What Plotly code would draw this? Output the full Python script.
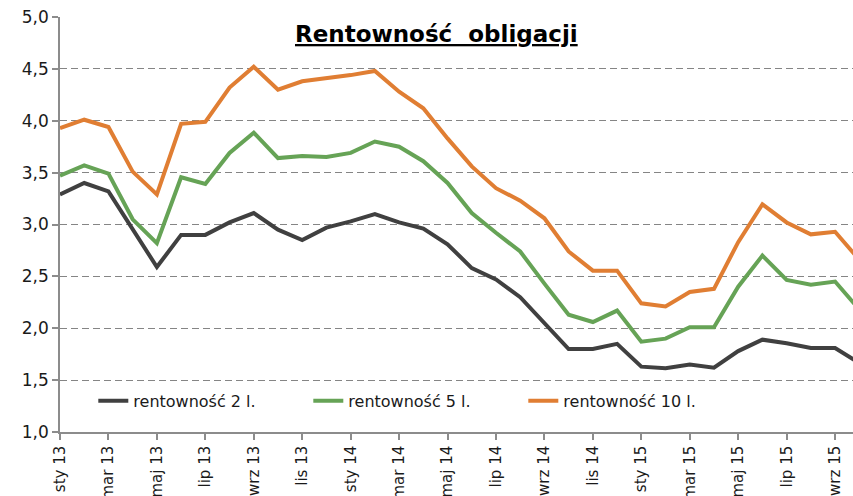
import plotly.graph_objects as go

months = ["sty 13", "lut 13", "mar 13", "kwi 13", "maj 13", "cze 13", "lip 13", "sie 13",
          "wrz 13", "paź 13", "lis 13", "gru 13", "sty 14", "lut 14", "mar 14", "kwi 14",
          "maj 14", "cze 14", "lip 14", "sie 14", "wrz 14", "paź 14", "lis 14", "gru 14",
          "sty 15", "lut 15", "mar 15", "kwi 15", "maj 15", "cze 15", "lip 15", "sie 15",
          "wrz 15", "paź 15"]

y2 = [3.29, 3.40, 3.32, 2.95, 2.59, 2.90, 2.90, 3.02, 3.11, 2.95, 2.85, 2.97,
      3.03, 3.10, 3.02, 2.96, 2.81, 2.58, 2.47, 2.30, 2.05, 1.80, 1.80, 1.85,
      1.63, 1.615, 1.65, 1.62, 1.78, 1.89, 1.855, 1.81, 1.81, 1.665]
y5 = [3.47, 3.57, 3.49, 3.05, 2.82, 3.455, 3.39, 3.69, 3.885, 3.64, 3.66, 3.65,
      3.69, 3.80, 3.75, 3.61, 3.40, 3.11, 2.92, 2.74, 2.43, 2.13, 2.06, 2.17,
      1.87, 1.90, 2.01, 2.01, 2.40, 2.70, 2.465, 2.42, 2.45, 2.18]
y10 = [3.93, 4.01, 3.94, 3.51, 3.29, 3.97, 3.99, 4.32, 4.52, 4.30, 4.38, 4.41,
       4.44, 4.48, 4.28, 4.12, 3.83, 3.56, 3.35, 3.23, 3.06, 2.74, 2.555, 2.555,
       2.24, 2.21, 2.35, 2.38, 2.83, 3.195, 3.02, 2.905, 2.93, 2.66]

series_names = ["rentowność 2 l.", "rentowność 5 l.", "rentowność 10 l."]
series_colors = ["#404040", "#66A356", "#E07E33"]

tick_idx = list(range(0, 33, 2))
tick_labels = [months[i] for i in tick_idx]
y_ticks = [1.0, 1.5, 2.0, 2.5, 3.0, 3.5, 4.0, 4.5, 5.0]

x = list(range(len(months)))

fig = go.Figure()
for name, vals, col in zip(series_names, [y2, y5, y10], series_colors):
    fig.add_trace(go.Scatter(x=x, y=vals, mode="lines", name=name,
                             line=dict(color=col, width=4),
                             customdata=months,
                             hovertemplate="%{customdata}: %{y}<extra>" + name + "</extra>"))

FONT = "DejaVu Sans"
fig.update_layout(
    width=853, height=496,
    margin=dict(l=60, r=0, t=17, b=64),
    paper_bgcolor="white", plot_bgcolor="white",
    separators=", ",
    font=dict(family=FONT, size=15, color="#1a1a1a"),
    showlegend=True,
    legend=dict(orientation="h", x=0.042, y=0.075, xanchor="left", yanchor="middle",
                bgcolor="rgba(0,0,0,0)", font=dict(family=FONT, size=16, color="#1a1a1a"),
                entrywidth=170, traceorder="normal"),
    annotations=[dict(text="<b><u>Rentowność\u00a0\u00a0obligacji</u></b>",
                      xref="paper", yref="paper", x=0.475, y=0.959,
                      xanchor="center", yanchor="middle", showarrow=False,
                      font=dict(family=FONT, size=23, color="#000000"))],
)
fig.update_xaxes(range=[0, 32.74], tickmode="array", tickvals=tick_idx, ticktext=tick_labels,
                 tickangle=-90, ticks="outside", ticklen=6, tickcolor="#8c8c8c", tickwidth=1.5,
                 showline=True, linecolor="#8c8c8c", linewidth=1.5, showgrid=False,
                 zeroline=False, automargin=False,
                 tickfont=dict(family=FONT, size=15, color="#1a1a1a"))
fig.update_yaxes(range=[1, 5], tickmode="array", tickvals=y_ticks, tickformat=".1f",
                 ticks="outside", ticklen=6, tickcolor="#8c8c8c", tickwidth=1.5,
                 showline=True, linecolor="#8c8c8c", linewidth=1.5,
                 showgrid=True, gridcolor="#858585", gridwidth=1.4, griddash="7px,4px",
                 zeroline=False, automargin=False,
                 tickfont=dict(family=FONT, size=17, color="#1a1a1a"))

fig.write_html("out.html", config={"displayModeBar": False},
               post_script="document.body.style.margin='0px';document.body.style.overflow='hidden';")
